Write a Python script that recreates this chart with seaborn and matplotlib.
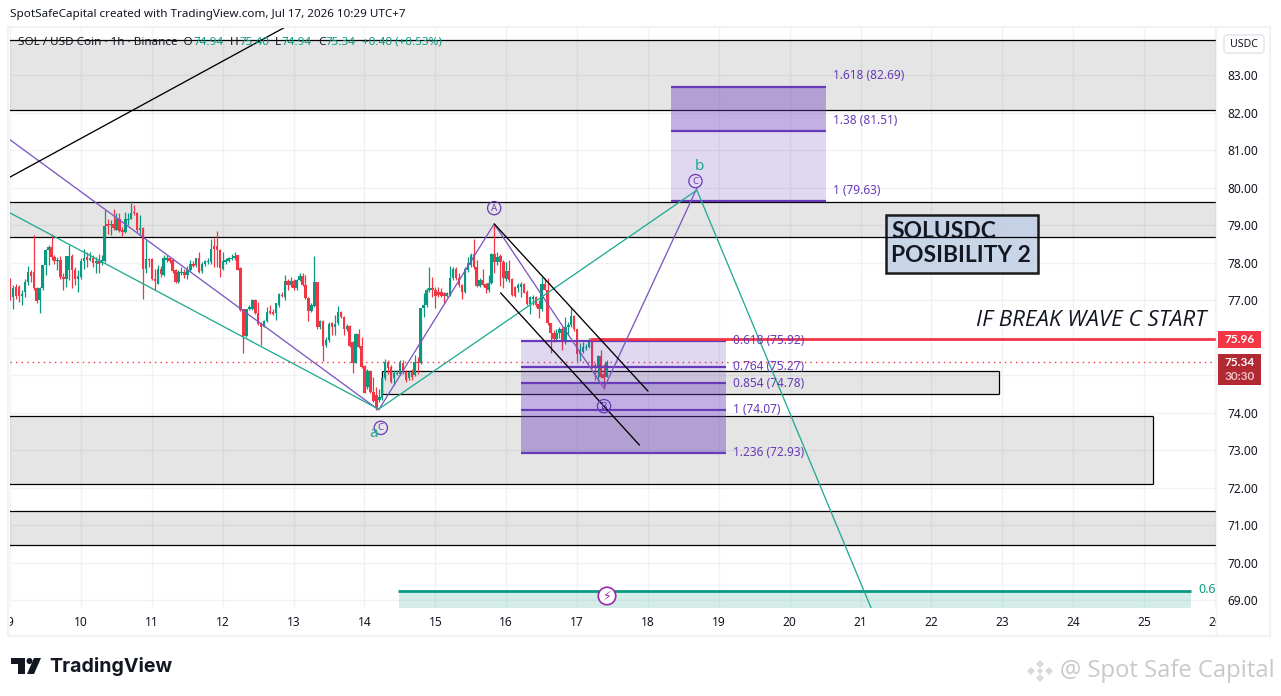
import matplotlib
matplotlib.use('Agg')
import matplotlib.pyplot as plt
from matplotlib.patches import Rectangle, Polygon, FancyBboxPatch
from matplotlib.transforms import Bbox
import seaborn as sb
import numpy as np

#================================================
# DATA

days = list(range(9, 27))
prices = list(range(69, 84))

# hourly candles, oldest first
opens = [77.22,77.09,77.35,77.35,77.12,77.22,77.49,77.75,77.75,77.31,77.00,77.31,77.93,78.33,78.42,78.15,78.05,78.06,77.62,77.57,
         77.80,78.17,77.81,77.55,77.62,78.03,78.15,78.08,78.11,77.99,78.05,77.99,78.05,79.02,79.00,79.02,78.88,79.15,78.88,78.82,
         79.13,79.17,79.33,79.33,78.86,78.93,77.84,78.09,78.09,77.55,77.44,77.84,77.66,78.08,78.11,78.06,77.80,77.49,77.71,77.75,
         77.66,77.80,77.97,77.93,78.11,77.77,77.96,78.01,78.02,78.44,78.44,78.33,77.84,78.02,78.05,78.10,78.11,78.20,77.86,76.75,
         76.04,76.75,76.77,77.01,76.66,76.37,76.29,76.45,76.71,76.69,76.66,76.86,77.13,77.09,77.50,77.40,77.50,77.31,77.53,77.64,
         77.40,77.06,76.71,76.84,77.47,76.27,76.45,75.80,75.93,76.38,76.27,76.38,76.68,76.56,76.22,76.31,75.89,75.33,76.09,75.77,
         75.24,74.69,75.10,74.55,74.47,74.33,74.38,74.91,75.36,75.22,74.91,75.03,75.04,75.33,75.09,74.91,75.09,75.00,75.36,75.33,
         76.78,76.87,77.28,77.31,77.27,77.22,77.22,77.18,77.11,77.13,77.58,77.82,77.58,77.40,77.22,77.80,77.93,78.23,77.89,77.37,
         77.53,77.43,77.28,77.46,78.23,78.02,78.17,78.02,77.55,77.77,77.55,77.34,77.31,77.36,77.43,77.22,76.89,77.04,77.07,76.89,
         76.75,77.43,77.28,76.38,76.13,75.95,76.13,76.22,75.89,76.27,76.33,76.57,76.22,75.56,75.62,75.71,75.74,75.93,75.27,75.18,75.51,
         75.04,74.94]
closes = [77.04,77.31,77.10,77.12,77.17,77.49,77.75,77.65,77.31,76.98,77.31,77.93,78.33,78.42,78.15,78.05,78.06,77.62,77.55,78.17,
          78.17,77.80,77.55,77.64,78.03,78.12,78.08,78.12,77.99,78.05,77.97,78.06,78.98,78.98,79.04,78.93,79.15,78.85,78.82,79.15,
          79.17,79.33,79.31,78.86,78.93,77.84,78.09,78.06,77.55,77.51,77.84,77.69,78.11,78.13,78.05,77.78,77.49,77.75,77.75,77.66,
          77.80,77.97,77.90,78.11,77.75,77.96,78.04,78.04,78.37,78.35,78.33,77.86,78.05,78.06,78.11,78.13,78.18,77.81,76.73,76.04,
          76.75,76.82,77.01,76.66,76.37,76.29,76.45,76.69,76.66,76.64,76.91,77.17,77.10,77.50,77.40,77.50,77.31,77.53,77.64,77.40,
          77.06,76.71,76.86,77.47,76.27,76.45,75.78,75.93,76.37,76.27,76.36,76.68,76.56,76.22,76.31,75.77,75.33,76.09,75.74,75.22,
          74.53,75.11,74.55,74.31,74.11,74.42,74.91,75.36,75.18,74.82,75.06,75.06,75.36,75.09,74.87,75.09,74.96,75.36,75.31,76.78,
          76.87,77.28,77.32,77.27,77.11,77.13,77.11,77.11,77.18,77.58,77.82,77.58,77.40,77.22,77.82,77.98,78.20,77.89,77.37,77.53,
          77.40,77.31,77.46,78.23,78.02,78.16,78.02,77.58,77.77,77.53,77.13,77.11,77.40,77.43,77.20,76.89,77.07,77.09,76.87,76.75,
          77.43,77.28,76.38,76.13,75.95,76.13,76.22,75.89,76.29,76.33,76.57,76.22,75.56,75.67,75.76,75.76,75.89,75.22,75.18,75.51,74.96,
          74.91,75.34]
highs = [77.60,77.40,77.44,77.40,77.26,77.57,77.90,77.80,78.73,77.35,77.35,77.93,78.35,78.46,78.77,78.20,78.15,78.17,77.71,78.17,
         78.46,78.24,77.89,77.80,78.11,78.37,78.29,78.29,78.20,78.15,78.24,78.20,79.41,79.17,79.13,79.44,79.31,79.31,78.95,79.35,
         79.33,79.64,79.53,79.35,79.26,78.95,78.60,78.11,78.11,77.84,77.93,77.90,78.20,78.20,78.15,78.11,77.84,77.80,77.89,77.84,
         77.90,78.06,78.05,78.13,78.29,78.02,78.08,78.11,78.64,78.66,78.84,78.35,78.29,78.11,78.15,78.24,78.27,78.21,77.89,76.77,
         76.77,76.86,77.04,77.04,76.95,76.42,76.46,76.82,76.86,76.75,76.92,77.19,77.22,77.68,77.57,77.62,77.57,77.57,77.73,77.71,
         77.66,77.09,76.91,78.17,77.49,76.46,76.46,76.02,76.42,76.42,76.60,76.84,76.71,76.57,76.36,76.33,75.92,76.11,76.24,76.02,
         75.27,75.15,75.13,74.96,74.69,74.64,74.96,75.44,75.40,75.27,75.13,75.13,75.40,75.40,75.13,75.13,75.15,75.53,75.49,76.80,
         77.18,77.31,77.87,77.62,77.34,77.34,77.31,77.22,77.22,77.91,77.87,77.87,77.71,77.44,77.87,78.16,78.26,78.64,78.07,77.58,
         77.84,77.46,77.67,78.26,79.00,78.29,78.23,78.07,78.02,78.07,77.58,77.37,77.46,77.49,77.46,77.27,77.11,77.13,77.11,77.00,
         77.62,77.58,77.58,76.40,76.20,76.24,76.27,76.29,76.56,76.42,76.78,76.60,76.24,75.86,75.89,75.84,76.00,75.98,75.33,75.53,75.68,
         75.29,75.40]
lows = [77.00,76.77,77.04,76.95,76.86,77.09,77.40,77.49,77.26,76.91,76.66,77.26,77.66,77.93,78.06,77.96,77.80,77.57,77.28,77.35,
        77.53,77.31,77.40,77.22,77.57,77.84,77.89,78.05,77.89,77.73,77.73,77.93,78.02,78.77,78.73,78.86,78.86,78.82,78.70,78.79,
        79.00,79.15,79.26,78.82,78.73,77.02,77.71,77.89,77.53,77.28,77.42,77.62,77.64,78.02,77.99,77.73,77.46,77.46,77.66,77.60,
        77.55,77.75,77.87,77.89,77.71,77.73,77.90,77.97,77.97,77.89,77.89,77.62,77.80,77.97,78.02,78.06,78.08,77.80,76.71,75.59,
        76.02,76.73,76.73,76.62,76.33,75.80,76.27,76.42,76.62,76.60,76.46,76.82,77.07,77.00,77.26,77.35,77.26,77.28,77.51,77.37,
        77.04,76.45,76.69,76.82,76.24,76.24,75.38,75.75,75.89,76.07,76.07,76.33,76.51,76.07,76.18,75.74,75.06,75.31,75.71,75.20,
        74.51,74.64,74.53,74.29,74.07,74.29,74.33,74.87,75.04,74.78,74.73,75.00,75.00,75.04,74.82,74.87,74.87,74.97,75.04,75.29,
        76.56,76.82,77.22,77.09,76.78,77.09,77.07,76.91,77.07,77.11,77.53,77.53,77.36,77.02,77.20,77.76,77.89,77.84,77.34,77.34,
        77.37,77.20,77.22,77.43,77.71,77.93,77.37,77.31,77.52,77.49,77.11,77.07,77.22,77.09,77.18,76.87,76.64,76.87,76.82,76.51,
        76.72,77.27,76.33,75.60,75.89,75.92,76.00,75.67,75.84,76.07,76.29,76.18,75.38,75.38,75.58,75.67,75.71,75.20,74.87,74.85,74.91,
        74.64,74.94]

last_close = 75.34
break_level = 75.96

# grey supply / demand zones: start, end, bottom, top
zone_starts = [8.9, 8.9, 14.25, 8.9, 8.9]
zone_ends = [27.0, 27.0, 22.95, 25.13, 27.0]
zone_bottoms = [82.07, 78.68, 74.49, 72.09, 70.47]
zone_tops = [83.93, 79.61, 75.12, 73.91, 71.37]

# wave legs and trend lines
purple_x = [9.0, 14.2, 15.83, 17.38, 18.69]
purple_y = [81.27, 74.07, 79.03, 74.65, 79.98]
teal_x = [9.0, 14.2, 18.69, 21.15]
teal_y = [79.32, 74.09, 79.93, 68.78]
black_trend_x = [9.0, 13.0]
black_trend_y = [80.28, 84.40]
channel_up_x = [15.83, 18.0]
channel_up_y = [79.03, 74.57]
channel_low_x = [15.92, 17.88]
channel_low_y = [77.19, 73.13]

# fib projections
low_fib_levels = [0.618, 0.764, 0.854, 1, 1.236]
low_fib_prices = [75.92, 75.27, 74.78, 74.07, 72.93]
low_fib_lines = [75.92, 75.22, 74.78, 74.07, 72.93]
high_fib_levels = [1, 1.38, 1.618]
high_fib_prices = [79.63, 81.51, 82.69]

#================================================
# SETUP

W, H = 1281, 696
sb.set_theme(style='white')
plt.rcParams['font.family'] = ['Noto Sans', 'DejaVu Sans']

fig = plt.figure(figsize=(W / 100, H / 100), dpi=100, facecolor='white')
ax = fig.add_axes([10 / W, 1 - 608 / H, 1206 / W, 581 / H])
ax.set_xlim(8.998, 26.015)
ax.set_ylim(68.787, 84.28)

UP = '#089981'
DOWN = '#F23645'
PURPLE = '#673AB7'
GRID = '#F1F2F4'
INK = '#131722'

ax.set_xticks(days)
ax.set_yticks(prices)
# the 75 and 76 labels sit behind the price tags on the reference
ax.set_yticklabels(['' if p in (75, 76) else f'{p:.2f}' for p in prices], fontsize=8.6, color=INK)
ax.set_xticklabels([str(d) for d in days], fontsize=8.6, color=INK)
ax.yaxis.tick_right()
ax.tick_params(axis='y', length=0, pad=8)
ax.tick_params(axis='x', length=0, pad=6)
ax.grid(True, color=GRID, linewidth=1)
ax.set_axisbelow(True)
for s in ax.spines.values():
    s.set_visible(False)

# tick labels at the edges are cut off by the pane
pane = Bbox([[10, 0], [1216, H]])
for label in ax.get_xticklabels():
    label.set_clip_box(pane)
    label.set_clip_on(True)

#================================================
# ZONES

for x0, x1, lo, hi in zip(zone_starts, zone_ends, zone_bottoms, zone_tops):
    ax.fill_between([x0, x1], lo, hi, color='black', alpha=0.1, linewidth=0, zorder=1)
    ax.hlines([lo, hi], x0, x1, color='black', linewidth=0.9, zorder=2)
    ax.vlines([x0, x1], lo, hi, color='black', linewidth=0.9, zorder=2)

#================================================
# CANDLES

n = len(closes)
x = 17.417 - (n - 1 - np.arange(n)) / 24
o, c, hi, lo = map(np.array, (opens, closes, highs, lows))
colors = np.where(c >= o, UP, DOWN)
ax.vlines(x, lo, hi, colors=colors, linewidth=0.9, zorder=3)
ax.bar(x, np.maximum(np.abs(c - o), 0.03), bottom=np.minimum(o, c), width=0.85 / 24, color=colors, linewidth=0, zorder=3)

ax.axhline(last_close, color=DOWN, linewidth=1, linestyle=(0, (1, 3)), zorder=3)
ax.hlines(break_level, 17.18, 27, color=DOWN, linewidth=2, zorder=6)

#================================================
# FIB BOXES

x0, x1 = 16.21, 19.1
ax.fill_between([x0, x1], low_fib_lines[2], low_fib_lines[0], color=PURPLE, alpha=0.2, linewidth=0, zorder=4)
ax.fill_between([x0, x1], low_fib_lines[4], low_fib_lines[2], color=PURPLE, alpha=0.4, linewidth=0, zorder=4)
ax.hlines(low_fib_lines, x0, x1, color=PURPLE, linewidth=1.6, zorder=5)
for lev, p, y in zip(low_fib_levels, low_fib_prices, low_fib_lines):
    ax.text(19.2, y, f'{lev} ({p:.2f})', color=PURPLE, fontsize=8.5, va='center', zorder=7)

x0, x1 = 18.33, 20.51
ax.fill_between([x0, x1], high_fib_prices[0], high_fib_prices[1], color=PURPLE, alpha=0.2, linewidth=0, zorder=4)
ax.fill_between([x0, x1], high_fib_prices[1], high_fib_prices[2], color=PURPLE, alpha=0.4, linewidth=0, zorder=4)
ax.hlines(high_fib_prices, x0, x1, color=PURPLE, linewidth=1.6, zorder=5)
for lev, p in zip(high_fib_levels, high_fib_prices):
    ax.text(20.61, p + 0.29, f'{lev} ({p:.2f})', color=PURPLE, fontsize=8.5, va='center', zorder=7)

#================================================
# WAVE LINES

sb.lineplot(x=purple_x, y=purple_y, sort=False, estimator=None, color='#7E57C2', linewidth=0.95, ax=ax, zorder=6)
sb.lineplot(x=teal_x, y=teal_y, sort=False, estimator=None, color='#22AB94', linewidth=0.95, ax=ax, zorder=6)
sb.lineplot(x=black_trend_x, y=black_trend_y, sort=False, estimator=None, color='black', linewidth=0.95, ax=ax, zorder=6)
sb.lineplot(x=channel_up_x, y=channel_up_y, sort=False, estimator=None, color='black', linewidth=0.95, ax=ax, zorder=6)
sb.lineplot(x=channel_low_x, y=channel_low_y, sort=False, estimator=None, color='black', linewidth=0.95, ax=ax, zorder=6)
ax.set_xlim(8.998, 26.015)
ax.set_ylim(68.787, 84.28)

# wave labels
for lx, ly, s in [(15.83, 79.45, 'A'), (17.38, 74.17, 'B'), (18.67, 80.17, 'C'), (14.23, 73.59, 'C')]:
    ax.text(lx, ly, s, color=PURPLE, fontsize=7, ha='center', va='center', zorder=8,
            bbox=dict(boxstyle='circle,pad=0.22', facecolor='none', edgecolor=PURPLE, linewidth=0.9))
ax.text(14.13, 73.45, 'a', color='#22AB94', fontsize=11, ha='center', va='center', zorder=8)
ax.text(18.72, 80.55, 'b', color='#22AB94', fontsize=11, ha='center', va='center', zorder=8)

#================================================
# GREEN POSITION BOX

ax.fill_between([14.49, 25.66], 68.787, 69.24, color=UP, alpha=0.17, linewidth=0, zorder=4)
ax.hlines(69.24, 14.47, 25.66, color=UP, linewidth=2, zorder=5)
ax.text(25.76, 69.27, '0.6', color=UP, fontsize=9, va='center', clip_on=True, zorder=7)

#================================================
# OVERLAY IN PIXELS: frame, tags, headers, logos

ov = fig.add_axes([0, 0, 1, 1], facecolor='none')
ov.set_xlim(0, W)
ov.set_ylim(H, 0)
ov.axis('off')

ov.add_patch(Rectangle((8, 27), 1262, 609, fill=False, edgecolor=GRID, linewidth=1.6))
ov.plot([1216, 1216], [27, 636], color=GRID, linewidth=1)

ov.text(10, 14.5, 'SpotSafeCapital created with TradingView.com, Jul 17, 2026 10:29 UTC+7', fontsize=8.4, color=INK, va='center')
ov.text(18, 42.5, 'SOL / USD Coin · 1h · Binance  O', fontsize=8.4, color=INK, va='center')
legend_parts = [(193.5, '74.94', UP), (230, 'H', INK), (239, '75.40', UP), (275, 'L', INK), (281, '74.94', UP),
                (318, 'C', INK), (325, '75.34', UP), (362, '+0.40 (+0.53%)', UP)]
for lx, s, col in legend_parts:
    ov.text(lx, 42.5, s, fontsize=8.4, color=col, va='center')

ov.add_patch(FancyBboxPatch((1224, 35), 40, 18, boxstyle='round,pad=0,rounding_size=3', facecolor='white', edgecolor='#E0E3EB', linewidth=1))
ov.text(1244, 44.5, 'USDC', fontsize=7.6, color=INK, ha='center', va='center')

# price tags
ov.add_patch(Rectangle((1218, 331), 43, 17, facecolor=DOWN, edgecolor='none'))
ov.text(1239.5, 339.5, '75.96', fontsize=8.6, color='white', ha='center', va='center', fontweight='bold', family='Lato')
ov.add_patch(Rectangle((1218, 354), 43, 31, facecolor='#B22833', edgecolor='none'))
ov.text(1239.5, 362.5, '75.34', fontsize=8.6, color='white', ha='center', va='center', fontweight='bold', family='Lato')
ov.text(1239.5, 376.5, '30:30', fontsize=8.6, color='#E8C4C8', ha='center', va='center', fontweight='bold', family='Lato')

# note boxes, the zone lines run over the box so it goes in the chart axes
ax.add_patch(Rectangle((886, 215), 152, 58, transform=ov.transData, facecolor=(0.753, 0.812, 0.898, 0.85),
                       edgecolor='#1A1A1A', linewidth=1.8, zorder=1.5, clip_on=False))
ov.text(891, 232, 'SOLUSDC', fontsize=16.4, color='#131722', va='center', fontweight='bold', family='Lato')
ov.text(891, 256, 'POSIBILITY 2', fontsize=16.4, color='#131722', va='center', fontweight='bold', family='Lato')
ov.text(976, 320, 'IF BREAK WAVE C START', fontsize=16.1, color=INK, va='center', style='italic', family='Open Sans')

# alert marker
ov.text(607, 596, '⚡', fontsize=9, color='#9C27B0', ha='center', va='center', family='DejaVu Sans',
        bbox=dict(boxstyle='circle,pad=0.18', facecolor='white', edgecolor='#9C27B0', linewidth=1.2))

# TradingView logo
ov.add_patch(Polygon([(11, 658), (25, 658), (25, 674), (18, 674), (18, 664), (11, 664)], facecolor='#131722', edgecolor='none'))
ov.add_patch(plt.Circle((29.5, 661), 3, facecolor='#131722', edgecolor='none'))
ov.add_patch(Polygon([(34, 658), (41, 658), (34, 674), (27, 674)], facecolor='#131722', edgecolor='none'))
ov.text(49, 666, 'TradingView', fontsize=14.1, color='#131722', va='center', fontweight='bold', family='Inter')

# watermark
for cx, cy, r in [(1040, 664, 4), (1031, 671, 4), (1049, 671, 4), (1040, 678, 4), (1040, 671, 3)]:
    ax.add_patch(Polygon([(cx - r, cy), (cx, cy - r), (cx + r, cy), (cx, cy + r)], transform=ov.transData, facecolor='#DADADA', edgecolor='none', clip_on=False))
ov.text(1060, 671, '@ Spot Safe Capital', fontsize=17.1, color='#C9C9C9', va='center', family='Open Sans')

fig.savefig('out.png', dpi=100, facecolor='white')
